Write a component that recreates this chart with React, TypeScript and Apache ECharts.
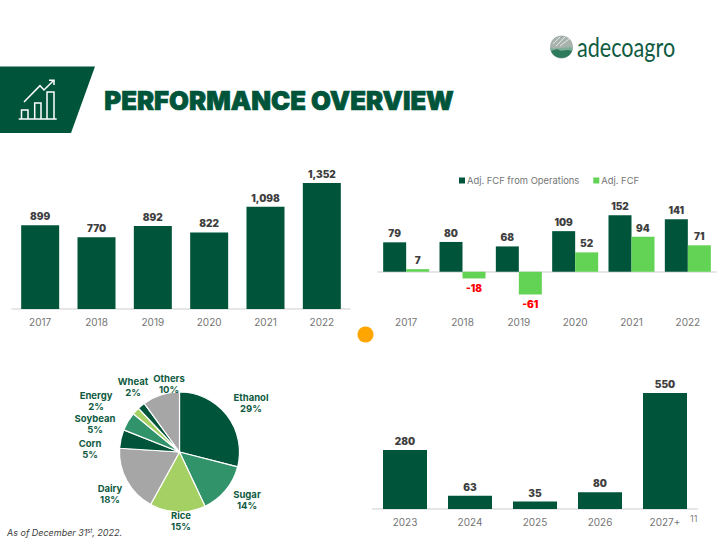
import React, { useEffect, useRef } from "react";
import * as echarts from "echarts";

const revenueYears = ["2017", "2018", "2019", "2020", "2021", "2022"];
const revenueValues = [899, 770, 892, 822, 1098, 1352];
const fcfYears = ["2017", "2018", "2019", "2020", "2021", "2022"];
const fcfOperations = [79, 80, 68, 109, 152, 141];
const fcfAdjusted = [7, -18, -61, 52, 94, 71];
const debtYears = ["2023", "2024", "2025", "2026", "2027+"];
const debtValues = [280, 63, 35, 80, 550];
const mixNames = ["Ethanol", "Sugar", "Rice", "Dairy", "Corn", "Soybean", "Energy", "Wheat", "Others"];
const mixValues = [29, 14, 15, 18, 5, 5, 2, 2, 10];

const DARK = "#00543A";
const LIGHT = "#62D354";
const MID = "#31936A";
const LIME = "#A5D063";
const GREY = "#A6A6A6";
const FONT = "Inter, 'Noto Sans', sans-serif";
const mixColors = [DARK, MID, LIME, GREY, DARK, MID, LIME, DARK, GREY];
const mixLabelSpots: [number, number][] = [
  [251, 403], [247, 500], [181, 521], [110, 494], [90, 449], [95, 424], [96, 401], [133, 387], [169, 384],
];

echarts.graphic.registerShape("logoBandA", echarts.graphic.extendPath("M-10.6 4 A11.5 11.5 0 0 0 10.6 4 C5 1 0 6 -4 2 Z", {}));
echarts.graphic.registerShape("logoBandB", echarts.graphic.extendPath("M-11.4 0.8 A11.5 11.5 0 0 0 -10.6 4 C-4 6 2 2 10.6 4 A11.5 11.5 0 0 0 11.4 0.8 C4 -1 -3 3 -11.4 0.8 Z", {}));

const axisLabel = { color: "#757575", fontSize: 10, fontFamily: FONT, margin: 8 };
const axisLine = { show: true, lineStyle: { color: "#DEDEDE", width: 1.5 } };
const valueLabel = {
  show: true,
  position: "top" as const,
  distance: 4,
  color: "#3F3F3F",
  fontSize: 10,
  fontWeight: 900,
  fontFamily: FONT,
};
const thousands = (p: any) => Number(p.value).toLocaleString("en-US");

function signedData(values: number[]) {
  return values.map((v) =>
    v < 0
      ? { value: v, label: { position: "bottom" as const, color: "#FF0000", distance: 5 } }
      : { value: v }
  );
}

const white = "#FFFFFF";
const iconLine = { stroke: white, lineWidth: 1.5, fill: "none" };

const graphics: any[] = [
  { type: "polygon", shape: { points: [[0, 66.5], [95, 66.5], [71, 133], [0, 133]] }, style: { fill: DARK } },
  { type: "line", shape: { x1: 18.7, y1: 119, x2: 56.7, y2: 119 }, style: { stroke: white, lineWidth: 1.5 } },
  { type: "polyline", shape: { points: [[21.5, 119], [21.5, 110], [28, 110], [28, 119]] }, style: iconLine },
  { type: "polyline", shape: { points: [[34.7, 119], [34.7, 103], [41, 103], [41, 119]] }, style: iconLine },
  { type: "polyline", shape: { points: [[47, 119], [47, 92], [54, 92], [54, 119]] }, style: iconLine },
  { type: "polyline", shape: { points: [[24, 102], [40, 85.7], [44, 90], [53.3, 80.7]] }, style: iconLine },
  { type: "polyline", shape: { points: [[49, 80.2], [54, 80.2], [54, 85]] }, style: iconLine },
  {
    type: "text", left: 104, top: 87,
    style: { text: "PERFORMANCE OVERVIEW", fill: DARK, stroke: DARK, lineWidth: 0.7, font: `900 25.7px ${FONT}` },
  },
  { type: "circle", shape: { cx: 561.5, cy: 47, r: 11.5 }, style: { fill: "#A9B3AE" } },
  { type: "line", shape: { x1: 553, y1: 44, x2: 560, y2: 37 }, style: { stroke: "#E4E8E6", lineWidth: 1 } },
  { type: "line", shape: { x1: 556, y1: 46, x2: 565, y2: 37 }, style: { stroke: "#E4E8E6", lineWidth: 1 } },
  { type: "line", shape: { x1: 560, y1: 46, x2: 569, y2: 39 }, style: { stroke: "#E4E8E6", lineWidth: 1 } },
  { type: "logoBandB", x: 561.5, y: 47, style: { fill: "#7FAE98" } },
  { type: "logoBandA", x: 561.5, y: 47, style: { fill: "#2E7A5C" } },
  {
    type: "text", x: 577, y: 47, scaleX: 0.8,
    style: {
      text: "adecoagro", fill: "#0F5B42", verticalAlign: "middle", align: "left",
      font: `400 27px Lato, sans-serif`,
    },
  },
  { type: "circle", shape: { cx: 365.5, cy: 334.5, r: 8 }, style: { fill: "#FFA500" } },
  { type: "text", left: 690, top: 514, style: { text: "11", fill: "#7F7F7F", font: `400 9px ${FONT}` } },
  {
    type: "text", left: 7, top: 528,
    style: {
      text: "{a|As of December 31}{s|st}{a|, 2022.}",
      rich: {
        a: { fontSize: 9, fontStyle: "italic", fontFamily: FONT, fill: "#404040", color: "#404040" },
        s: { fontSize: 5.5, fontStyle: "italic", fontFamily: FONT, fill: "#404040", color: "#404040", verticalAlign: "top" },
      },
    },
  },
];

const option: any = {
  animation: false,
  backgroundColor: "#FFFFFF",
  textStyle: { fontFamily: FONT },
  legend: {
    left: 454,
    top: 171,
    itemWidth: 6,
    itemHeight: 6,
    itemGap: 14,
    icon: "rect",
    data: ["Adj. FCF from Operations", "Adj. FCF"],
    textStyle: { color: "#757575", fontSize: 9.4, fontFamily: FONT, padding: [0, 0, 0, -3] },
  },
  graphic: graphics,
  grid: [
    { left: 12, top: 160, width: 338, height: 149 },
    { left: 378, top: 160, width: 338, height: 149 },
    { left: 372.5, top: 382.5, width: 325, height: 126.5 },
  ],
  xAxis: [
    { type: "category", gridIndex: 0, data: revenueYears, axisTick: { show: false }, axisLine, axisLabel },
    { type: "category", gridIndex: 1, data: fcfYears, axisTick: { show: false }, axisLine: { ...axisLine, onZero: true }, axisLabel: { show: false } },
    { type: "category", gridIndex: 1, position: "bottom", data: fcfYears, axisTick: { show: false }, axisLine: { show: false, onZero: false }, axisLabel },
    { type: "category", gridIndex: 2, data: debtYears, axisTick: { show: false }, axisLine, axisLabel },
  ],
  yAxis: [
    { type: "value", gridIndex: 0, min: 0, max: 1600, show: false, splitLine: { show: false } },
    { type: "value", gridIndex: 1, min: -100, max: 300, show: false, splitLine: { show: false } },
    { type: "value", gridIndex: 2, min: 0, max: 600, show: false, splitLine: { show: false } },
  ],
  series: [
    {
      type: "bar", xAxisIndex: 0, yAxisIndex: 0, data: revenueValues, barWidth: 38,
      itemStyle: { color: DARK }, label: { ...valueLabel, formatter: thousands },
    },
    {
      name: "Adj. FCF from Operations", type: "bar", xAxisIndex: 1, yAxisIndex: 1, data: fcfOperations,
      barWidth: 23, barGap: 0, itemStyle: { color: DARK }, label: valueLabel,
    },
    {
      name: "Adj. FCF", type: "bar", xAxisIndex: 1, yAxisIndex: 1, data: signedData(fcfAdjusted),
      barWidth: 23, barGap: 0, itemStyle: { color: LIGHT }, label: valueLabel,
    },
    {
      type: "bar", xAxisIndex: 3, yAxisIndex: 2, data: debtValues, barWidth: 44,
      itemStyle: { color: DARK }, label: valueLabel,
    },
    {
      type: "pie",
      center: [179.5, 452],
      radius: [0, 60],
      startAngle: 90,
      clockwise: true,
      data: mixNames.map((name, i) => ({ name, value: mixValues[i], itemStyle: { color: mixColors[i] } })),
      itemStyle: { borderColor: "#FFFFFF", borderWidth: 1.2 },
      emphasis: { disabled: true },
      labelLine: { show: false },
      label: {
        show: true,
        position: "outside",
        formatter: "{b}\n{d}%",
        color: "#0F5B42",
        fontSize: 9.5,
        fontWeight: 700,
        lineHeight: 11.5,
        align: "center",
        fontFamily: FONT,
      },
      labelLayout: (p: any) => ({
        x: mixLabelSpots[p.dataIndex][0],
        y: mixLabelSpots[p.dataIndex][1],
        align: "center",
        verticalAlign: "middle",
        hideOverlap: false,
      }),
    },
  ],
};

export default function App() {
  const ref = useRef<HTMLDivElement>(null);
  useEffect(() => {
    const chart = echarts.init(ref.current!, undefined, { renderer: "svg" });
    chart.setOption(option);
    return () => chart.dispose();
  }, []);
  return <div ref={ref} style={{ position: "fixed", left: 0, top: 0, width: 720, height: 540 }} />;
}
